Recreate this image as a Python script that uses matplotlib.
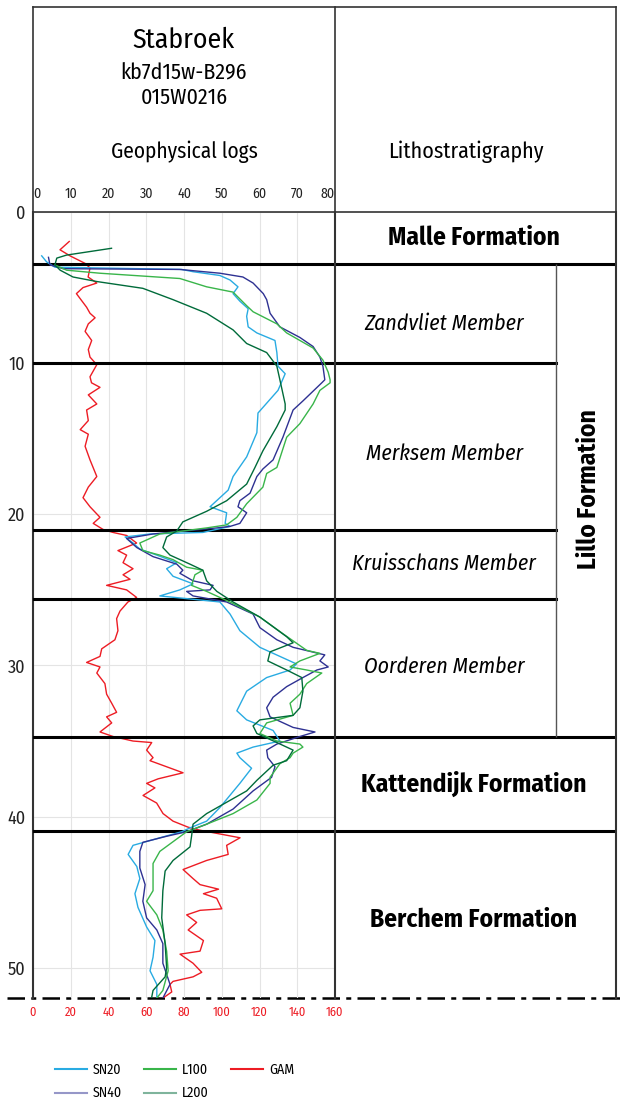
import numpy as np
import matplotlib
matplotlib.use('Agg')
import matplotlib.pyplot as plt
from matplotlib.lines import Line2D

plt.rcParams['font.family'] = ['Fira Sans Condensed', 'PT Sans Narrow', 'DejaVu Sans']

# Log readings as (depth m, value) pairs
# resistivity logs on the top scale (0-80), gamma ray on the bottom scale (0-160)
sn20 = np.array([(2.9,2.3),(3.3,3.6),(3.65,5.8),(3.8,39.4),(3.95,42.4),(4.2,49.5),(4.5,52.2),(4.95,54.3),(5.4,53),
                 (5.9,54.8),(6.4,57),(6.9,56.6),(7.6,57),(8.0,59.3),(8.5,64.1),(9.3,64.6),(10.2,64.9),(10.7,66.8),
                 (11.8,64.9),(13.3,59.6),(14.6,59.3),(16.2,56.6),(17.5,53),(18.4,51.7),(19.5,46.9),(19.9,51.3),
                 (20.6,50.9),(20.8,52.2),(21.2,45),(21.3,31),(21.5,24.4),(21.9,26.5),(22.3,28.3),(22.7,32.8),
                 (23.2,38.1),(23.6,35.4),(24.1,37.1),(24.6,42.4),(25.0,38.9),(25.4,33.6),(25.8,49.5),(26.6,52.2),
                 (27.7,54.8),(28.8,60.1),(29.4,65.4),(29.9,69.8),(30.3,68.1),(30.8,61.9),(31.7,56.6),(33.0,54),
                 (33.6,56.6),(34.3,63.6),(35.0,65.4),(35.4,58.3),(35.8,54),(36.1,54.8),(36.8,57.9),(37.8,54.8),
                 (39.4,49.5),(40.3,46),(40.7,42),(41.0,39.4),(41.4,33.6),(41.9,26.5),(42.5,25.2),(43.3,27.5),
                 (44.1,28.3),(45.1,27),(46.0,27.8),(47.3,30.1),(48.2,32.3),(49.3,31.8),(50.2,31),(51.1,32.8),(52.0,32.8)])
sn40 = np.array([(3.0,4.1),(3.5,4.5),(3.75,8),(3.8,38.9),(4.05,49.5),(4.3,55.6),(4.7,58.3),(5.4,61),(5.8,61.9),
                 (6.7,62.8),(7.6,65.4),(8.3,70.7),(8.9,74.2),(9.6,76),(10.2,76.8),(11.1,77.3),(11.3,76.5),(12.5,71.5),
                 (13.1,68.9),(14.9,66.2),(16.4,63.6),(17.0,60.9),(17.5,59.3),(18.6,57.5),(19.1,54.8),(19.5,54.3),
                 (19.9,56.6),(20.6,54.8),(20.8,52.2),(20.9,48.7),(21.3,31.8),(21.6,24.8),(22.2,27.5),(22.8,31.8),
                 (23.3,38.1),(23.7,39.7),(23.9,38.9),(24.4,42.4),(24.7,47.7),(25.0,46.9),(25.1,40.7),(25.4,42.4),
                 (25.8,51.3),(26.6,58.3),(27.5,60.1),(28.3,64.6),(28.8,68.9),(29.3,77.3),(29.7,76),(30.1,78.2),
                 (30.3,75.2),(30.8,71.5),(31.4,67.2),(32.1,63.6),(32.8,61.9),(33.4,62.8),(34.1,68.9),(34.4,74.7),
                 (34.7,70.7),(35.2,64.6),(35.6,61.9),(36.1,62.2),(36.7,64.1),(37.4,63.2),(38.3,58.3),(39.5,53),
                 (40.5,46),(41.0,40.7),(41.3,35.4),(41.7,29.1),(42.3,28.3),(43.4,28.3),(44.5,29.7),(45.6,29.1),
                 (46.7,30.1),(47.5,32.8),(48.4,34.4),(49.7,34.4),(51.1,36.3),(52.0,34.4)])
l100 = np.array([(3.5,5.8),(3.85,8.9),(4.05,17.7),(4.4,38.9),(4.95,46),(5.3,53),(6.2,56.6),(6.6,58.3),(7.4,64.6),
                 (8.0,67.2),(9.0,74.2),(9.8,76.8),(10.6,78.2),(11.1,78.7),(11.3,78.7),(11.8,76),(12.7,74.2),(14.0,70.7),
                 (14.9,67.2),(16.9,64.6),(17.3,61.9),(18.2,60.9),(19.3,56.6),(20.2,54),(20.7,51.3),(20.9,46),
                 (21.3,33.6),(21.9,28.3),(22.4,29.1),(22.7,33.6),(23.0,37.1),(23.5,40.7),(23.7,45),(24.0,42.9),
                 (24.7,42),(25.1,46),(25.9,53),(26.8,60.1),(27.9,66.2),(29.0,72.5),(29.2,76),(29.7,70.7),(30.1,68.1),
                 (30.3,72.5),(30.5,76.5),(31.2,72.5),(31.9,70.7),(32.5,68.1),(33.3,68.9),(33.8,61.9),(34.5,60.1),
                 (35.0,64.6),(35.2,70.7),(35.4,71.5),(35.8,68.9),(36.1,68.1),(36.5,65.4),(37.4,62.8),(37.8,62.8),
                 (38.9,59.3),(39.8,53),(40.5,46),(41.0,40.7),(42.3,33.6),(43.1,31.8),(44.9,31.8),(45.6,30.1),
                 (46.5,32.8),(47.5,34.4),(48.9,35.4),(50.2,35.8),(51.5,34.4),(52.0,32.8)])
l200 = np.array([(2.4,20.8),(2.85,8.9),(3.05,6.3),(3.5,5.8),(3.85,7.2),(4.3,10.6),(4.6,16.9),(5.05,29.1),(5.8,37.1),
                 (6.7,46),(7.8,53),(8.7,56.6),(9.3,61.9),(10.2,64.6),(11.1,65.4),(12.7,66.8),(13.1,66.8),(14.2,64.6),
                 (15.8,60.9),(16.9,58.8),(18.0,56.6),(19.1,51.3),(19.8,46),(20.5,39.7),(21.1,38.1),(21.5,35.4),
                 (22.2,34.4),(22.7,36.3),(23.3,41.6),(23.7,45),(24.4,46),(25.1,48.7),(25.8,53),(26.8,60.1),(28.1,67.2),
                 (28.5,68.9),(29.1,62.8),(29.7,62.2),(30.3,67.2),(30.8,71.2),(31.7,71.5),(32.8,70.7),(33.3,68.9),
                 (33.6,60.1),(34.0,58.3),(34.5,59.3),(35.1,64.6),(35.6,68.9),(36.3,67.2),(36.6,63.6),(37.6,59.3),
                 (38.3,56.6),(39.8,46),(40.5,42.4),(41.3,42),(42.0,41.6),(42.9,37.1),(43.6,35),(44.9,34.4),(46.7,34.1),
                 (48.4,35),(50.0,35.4),(50.6,35),(51.5,31.8),(52.0,31.4)])
gam = np.array([(1.95,19.2),(2.5,14.3),(2.9,19.6),(3.4,27.6),(3.7,30.2),(4.3,29.2),(4.7,33.8),(5.0,26.5),(5.4,23),
                (6.3,28.4),(6.7,30.2),(7.0,32.9),(7.4,29.3),(7.9,27.6),(8.5,31.1),(9.1,29.3),(9.6,30.2),(10.1,33.8),
                (10.9,30.2),(11.3,31),(11.6,35.5),(12.1,29.3),(12.7,33.8),(13.1,28.4),(13.8,29.3),(14.4,25),(14.7,29.3),
                (15.5,27.6),(16.4,30.2),(17.5,33.8),(18.2,29.3),(18.9,26.5),(19.5,30.2),(20.2,35.5),(20.6,31.9),
                (21.0,37.1),(21.2,42.4),(21.4,49.6),(21.9,54.9),(22.4,45),(22.7,49.6),(23.2,47.7),(23.6,53),(24.0,47.7),
                (24.3,51.4),(24.7,39),(25.0,49.6),(25.5,54.9),(25.8,50.3),(26.4,46.1),(26.9,44.3),(27.7,45),(28.3,43.4),
                (28.9,36.4),(29.4,35.5),(29.8,28.4),(30.1,35.5),(30.5,33.8),(31.2,38.1),(31.9,39),(32.5,41.7),
                (33.1,44.3),(33.4,39),(33.8,41.7),(34.4,35.5),(34.7,42.4),(35.0,53),(35.1,62.9),(35.6,60.2),(36.1,63.6),
                (36.3,62),(37.1,79.5),(37.5,66.3),(37.8,60.2),(38.1,64.6),(38.6,58.3),(39.1,65.5),(39.8,68.9),
                (40.3,74.2),(40.7,82.2),(40.9,88.5),(41.4,109.7),(41.9,102.6),(42.5,103.4),(42.9,92),(43.5,79.5),
                (44.1,84.8),(44.5,88.5),(44.8,98.3),(45.1,90.3),(45.4,97.3),(46.1,100),(46.2,88.5),(46.5,81.4),
                (47.0,86.7),(47.5,82.2),(48.2,90.3),(48.9,88.5),(49.1,77.9),(49.7,84.8),(50.3,89.4),(50.6,84.8),
                (50.9,74.2),(51.1,72.6),(51.6,73.5),(52.0,68.9)])

# Lithostratigraphy: base depths (m)
malle_base = 3.44
member_names = ['Zandvliet Member', 'Merksem Member', 'Kruisschans Member', 'Oorderen Member']
member_bases = [10.0, 21.04, 25.6, 34.73]
formation_names = ['Malle Formation', 'Kattendijk Formation', 'Berchem Formation']
formation_bases = [3.44, 40.95, 52.0]
depth_max = 52.0
# where the labels sit (depth, m)
member_label_depth = [7.4, 16.0, 23.3, 30.1]
formation_label_depth = [1.72, 37.84, 46.8]
lillo_label_depth = 18.35

W, H = 623, 1103
fig = plt.figure(figsize=(W/100, H/100), dpi=100)

# background axes in pixel units for the frame / header
bg = fig.add_axes([0, 0, 1, 1])
bg.set_xlim(0, W)
bg.set_ylim(H, 0)
bg.axis('off')
fc = '#333333'
bg.plot([33, 616], [7, 7], color=fc, lw=1.2)
for x in [33, 335, 616]:
    bg.plot([x, x], [7, 212], color=fc, lw=1.2)
bg.plot([7, 620], [998, 998], color='black', lw=1.8, ls=(0, (7, 2.5, 2, 2.5)))

bg.text(184, 40, 'Stabroek', fontsize=20, ha='center', va='center')
bg.text(184, 73, 'kb7d15w-B296', fontsize=15.7, ha='center', va='center')
bg.text(184, 98, '015W0216', fontsize=15.7, ha='center', va='center')
bg.text(184, 152, 'Geophysical logs', fontsize=15.4, ha='center', va='center')
bg.text(466, 152, 'Lithostratigraphy', fontsize=15.8, ha='center', va='center')

ax_bottom = 1 - 998/H
ax_h = (998 - 212)/H
ax = fig.add_axes([33/W, ax_bottom, 302/W, ax_h])
ax.patch.set_alpha(0)
ax.set_xlim(0, 160)
ax.set_ylim(depth_max, 0)
ax.set_xticks(np.arange(0, 161, 20))
ax.set_yticks(np.arange(0, 51, 10))
ax.grid(True, color='#e4e4e4', lw=0.8)
ax.tick_params(axis='x', colors='#ed1c24', labelsize=9, length=0, pad=6)
ax.tick_params(axis='y', labelsize=13, length=0, pad=5.5, labelcolor='#222222')
for s in ['bottom', 'right']:
    ax.spines[s].set_visible(False)
ax.spines['left'].set_color(fc)
ax.spines['left'].set_linewidth(1.5)
ax.spines['top'].set_color(fc)
ax.spines['top'].set_linewidth(1.2)

ax_top = ax.twiny()
ax_top.set_xlim(0, 80)
ax_top.set_xticks(np.arange(0, 81, 10))
ax_top.tick_params(axis='x', labelsize=10, length=0, pad=8, labelcolor='#222222')
for s in ['bottom', 'right', 'left', 'top']:
    ax_top.spines[s].set_visible(False)
tl = ax_top.get_xticklabels()
tl[0].set_ha('left')
tl[-1].set_ha('right')

lw = 1.0
ax_top.plot(sn20[:, 1], sn20[:, 0], color='#29abe2', lw=lw, label='SN20')
ax_top.plot(sn40[:, 1], sn40[:, 0], color='#2e3192', lw=lw, label='SN40')
ax_top.plot(l100[:, 1], l100[:, 0], color='#39b54a', lw=lw, label='L100')
ax_top.plot(l200[:, 1], l200[:, 0], color='#006b3a', lw=lw, label='L200')
ax.plot(gam[:, 1], gam[:, 0], color='#ed1c24', lw=lw, label='GAM')

for d in [malle_base] + member_bases + formation_bases[1:2]:
    ax.axhline(d, color='black', lw=2.2, zorder=5)

# lithostratigraphy column
ax_l = fig.add_axes([335/W, ax_bottom, 281/W, ax_h])
ax_l.patch.set_alpha(0)
ax_l.set_xlim(0, 1)
ax_l.set_ylim(depth_max, 0)
ax_l.set_xticks([])
ax_l.set_yticks([])
for s in ['left', 'right']:
    ax_l.spines[s].set_color(fc)
    ax_l.spines[s].set_linewidth(1.5)
ax_l.spines['top'].set_color(fc)
ax_l.spines['top'].set_linewidth(1.2)
ax_l.spines['bottom'].set_visible(False)

split = (556 - 335)/281
ax_l.axhline(malle_base, color='black', lw=2.2)
for d in member_bases[:-1]:
    ax_l.axhline(d, xmax=split, color='black', lw=2.2)
for d in formation_bases[1:2] + [member_bases[-1]]:
    ax_l.axhline(d, color='black', lw=2.2)
ax_l.vlines(split, malle_base, member_bases[-1], color='#555555', lw=1.0)

for name, d in zip(member_names, member_label_depth):
    ax_l.text(0.388, d, name, fontsize=15.7, style='italic', ha='center', va='center')
for name, d in zip(formation_names, formation_label_depth):
    ax_l.text(0.493, d, name, fontsize=18.3, fontweight='bold', ha='center', va='center')
ax_l.text(0.904, lillo_label_depth, 'Lillo Formation', fontsize=18.3,
          fontweight='bold', rotation=90, ha='center', va='center')

handles = [Line2D([], [], color='#29abe2', lw=1.5),
           Line2D([], [], color='#2e3192', lw=1.5, alpha=0.5),
           Line2D([], [], color='#39b54a', lw=1.5),
           Line2D([], [], color='#006b3a', lw=1.5, alpha=0.5),
           Line2D([], [], color='#ed1c24', lw=1.5)]
labels = ['SN20', 'SN40', 'L100', 'L200', 'GAM']
fig.legend(handles, labels, ncol=3, loc='upper left', bbox_to_anchor=(55/W, 1 - 1063/H),
           frameon=False, fontsize=10, handlelength=2.3, handletextpad=0.43,
           columnspacing=1.6, labelspacing=0.64, borderpad=0, borderaxespad=0)

fig.savefig('out.png', dpi=100)
